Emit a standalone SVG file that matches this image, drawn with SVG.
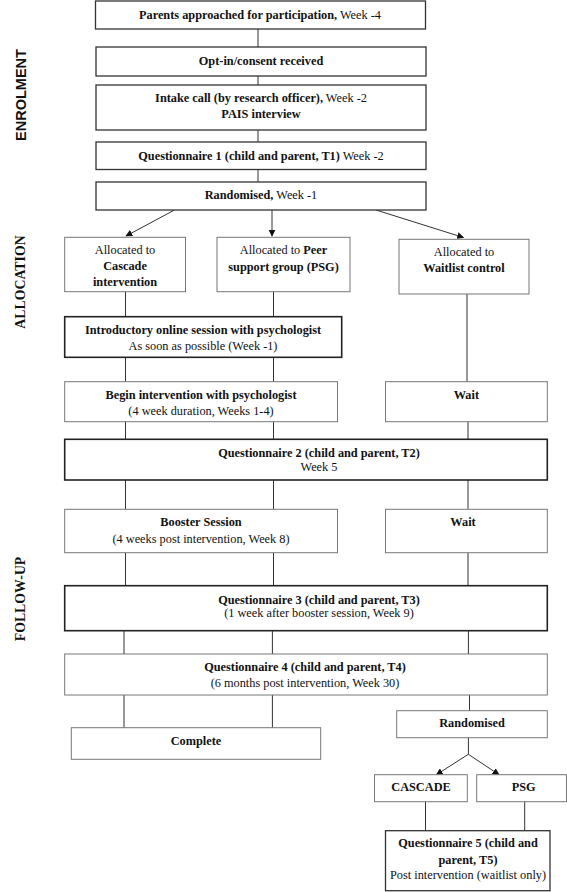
<svg xmlns="http://www.w3.org/2000/svg" width="567" height="892" viewBox="0 0 567 892">
<style>
.b{fill:#fff;stroke:#333;stroke-width:1.3}
.l{fill:#fff;stroke:#777;stroke-width:1}
.k{fill:#fff;stroke:#222;stroke-width:1.6}
text{font-family:"Liberation Serif","Times New Roman",serif;font-size:12.3px;fill:#111;text-anchor:middle}
.bd{font-weight:bold}
.side{font-weight:bold;font-size:13.8px}
.c{stroke:#333;stroke-width:1;fill:none}
</style>
<defs>
<marker id="ah" viewBox="0 0 10 10" refX="9" refY="5" markerWidth="7" markerHeight="7" orient="auto" markerUnits="userSpaceOnUse">
<path d="M0,0 L10,5 L0,10 z" fill="#111"/>
</marker>
</defs>
<rect width="567" height="892" fill="#fff"/>
<text class="side" style="font-family:'Liberation Sans',Arial,sans-serif;font-size:14.5px" transform="translate(25.5,95) rotate(-90)">ENROLMENT</text>
<text class="side" transform="translate(25,282) rotate(-90)">ALLOCATION</text>
<text class="side" transform="translate(25,599) rotate(-90)">FOLLOW-UP</text>
<g id="connectors">
<line class="c" x1="258" y1="29" x2="258" y2="47"/>
<line class="c" x1="258" y1="76" x2="258" y2="85"/>
<line class="c" x1="258" y1="130" x2="258" y2="142"/>
<line class="c" x1="258" y1="169" x2="258" y2="182"/>
<line class="c" x1="174.5" y1="210" x2="126" y2="236" marker-end="url(#ah)"/>
<line class="c" x1="272" y1="210" x2="272" y2="236" marker-end="url(#ah)"/>
<line class="c" x1="376" y1="210" x2="463.5" y2="237.5" marker-end="url(#ah)"/>
<line class="c" x1="125.5" y1="292" x2="125.5" y2="317"/>
<line class="c" x1="273.5" y1="292" x2="273.5" y2="317"/>
<line class="c" x1="467" y1="294" x2="467" y2="382"/>
<line class="c" x1="125.5" y1="357" x2="125.5" y2="382"/>
<line class="c" x1="273.5" y1="357" x2="273.5" y2="382"/>
<line class="c" x1="125.5" y1="422" x2="125.5" y2="439"/>
<line class="c" x1="273.5" y1="422" x2="273.5" y2="439"/>
<line class="c" x1="468" y1="422" x2="468" y2="439"/>
<line class="c" x1="125.5" y1="480" x2="125.5" y2="509"/>
<line class="c" x1="273.5" y1="480" x2="273.5" y2="509"/>
<line class="c" x1="468" y1="480" x2="468" y2="509"/>
<line class="c" x1="125.5" y1="553" x2="125.5" y2="586"/>
<line class="c" x1="273.5" y1="553" x2="273.5" y2="586"/>
<line class="c" x1="468" y1="553" x2="468" y2="586"/>
<line class="c" x1="124" y1="631" x2="124" y2="654"/>
<line class="c" x1="272.4" y1="631" x2="272.4" y2="654"/>
<line class="c" x1="468.4" y1="631" x2="468.4" y2="654"/>
<line class="c" x1="124" y1="695" x2="124" y2="728"/>
<line class="c" x1="272.4" y1="695" x2="272.4" y2="728"/>
<line class="c" x1="469.5" y1="695" x2="469.5" y2="711"/>
<line class="c" x1="468.4" y1="738" x2="468.4" y2="754.3"/>
<line class="c" x1="468.4" y1="754.3" x2="436.4" y2="774.7" marker-end="url(#ah)"/>
<line class="c" x1="468.4" y1="754.3" x2="499" y2="774.7" marker-end="url(#ah)"/>
<line class="c" x1="425.5" y1="802" x2="425.5" y2="831"/>
<line class="c" x1="524.7" y1="802" x2="524.7" y2="831"/>
</g>
<g id="n1"><rect class="b" x="95.5" y="1" width="330" height="28"/><text x="260" y="18.5"><tspan class="bd">Parents approached for participation,</tspan> Week -4</text></g>
<g id="n2"><rect class="b" x="96" y="47" width="330" height="29"/><text class="bd" x="261" y="65">Opt-in/consent received</text></g>
<g id="n3"><rect class="b" x="96" y="85" width="330" height="45"/><text x="261" y="101.5"><tspan class="bd">Intake call (by research officer),</tspan> Week -2</text><text class="bd" x="261" y="118">PAIS interview</text></g>
<g id="n4"><rect class="b" x="96" y="142" width="330" height="27.5"/><text x="261" y="159.5"><tspan class="bd">Questionnaire 1 (child and parent, T1)</tspan> Week -2</text></g>
<g id="n5"><rect class="b" x="96" y="182" width="330" height="28"/><text x="261" y="198.5"><tspan class="bd">Randomised,</tspan> Week -1</text></g>
<g id="alloc_cascade"><rect class="l" x="64.7" y="237.3" width="120.8" height="54.4"/><text x="125" y="253.5">Allocated to</text><text class="bd" x="125" y="270">Cascade</text><text class="bd" x="125" y="286">intervention</text></g>
<g id="alloc_psg"><rect class="l" x="217" y="237.3" width="133" height="54.4"/><text x="283.5" y="253.5">Allocated to <tspan class="bd">Peer</tspan></text><text class="bd" x="283.5" y="271">support group (PSG)</text></g>
<g id="alloc_wait"><rect class="l" x="399" y="239.3" width="130" height="54.7"/><text x="464" y="255.5">Allocated to</text><text class="bd" x="464" y="271.5">Waitlist control</text></g>
<g id="intro"><rect class="k" x="64.7" y="316.7" width="277" height="40.6"/><text class="bd" x="203" y="333.5">Introductory online session with psychologist</text><text x="203" y="349.5">As soon as possible (Week -1)</text></g>
<g id="begin"><rect class="l" x="64.7" y="381.7" width="272.8" height="40"/><text class="bd" x="201" y="398.5">Begin intervention with psychologist</text><text x="201" y="414.5">(4 week duration, Weeks 1-4)</text></g>
<g id="wait1"><rect class="l" x="385.5" y="381.7" width="161.8" height="40"/><text class="bd" x="466.4" y="398.5">Wait</text></g>
<g id="q2"><rect class="k" x="64.7" y="439.3" width="482.6" height="40.7"/><text class="bd" x="319" y="457">Questionnaire 2 (child and parent, T2)</text><text x="319" y="470.5">Week 5</text></g>
<g id="booster"><rect class="l" x="64.7" y="509.3" width="272.8" height="43.4"/><text class="bd" x="201" y="526">Booster Session</text><text x="201" y="542.5">(4 weeks post intervention, Week 8)</text></g>
<g id="wait2"><rect class="l" x="385.5" y="509.3" width="161.8" height="43.4"/><text class="bd" x="463" y="526">Wait</text></g>
<g id="q3"><rect class="k" x="64.7" y="585.7" width="482.6" height="45"/><text class="bd" x="319" y="603.5">Questionnaire 3 (child and parent, T3)</text><text x="319" y="616.5">(1 week after booster session, Week 9)</text></g>
<g id="q4"><rect class="l" x="64.7" y="654" width="482.6" height="41"/><text class="bd" x="305" y="670.5">Questionnaire 4 (child and parent, T4)</text><text x="305" y="687">(6 months post intervention, Week 30)</text></g>
<g id="complete"><rect class="l" x="71.3" y="727.7" width="249.4" height="31.6"/><text class="bd" x="196" y="744.5">Complete</text></g>
<g id="rand2"><rect class="l" x="396.7" y="710.7" width="150.6" height="27"/><text class="bd" x="472" y="727">Randomised</text></g>
<g id="cascade"><rect class="l" x="374.5" y="774.7" width="92.8" height="27"/><text class="bd" x="421" y="791">CASCADE</text></g>
<g id="psg"><rect class="l" x="476.7" y="774.7" width="89.8" height="27"/><text class="bd" x="523.6" y="791">PSG</text></g>
<g id="q5"><rect class="b" x="385.5" y="830.7" width="164.5" height="60"/><text class="bd" x="468" y="846.5">Questionnaire 5 (child and</text><text class="bd" x="468" y="863.5">parent, T5)</text><text x="468" y="878.5">Post intervention (waitlist only)</text></g>
</svg>
